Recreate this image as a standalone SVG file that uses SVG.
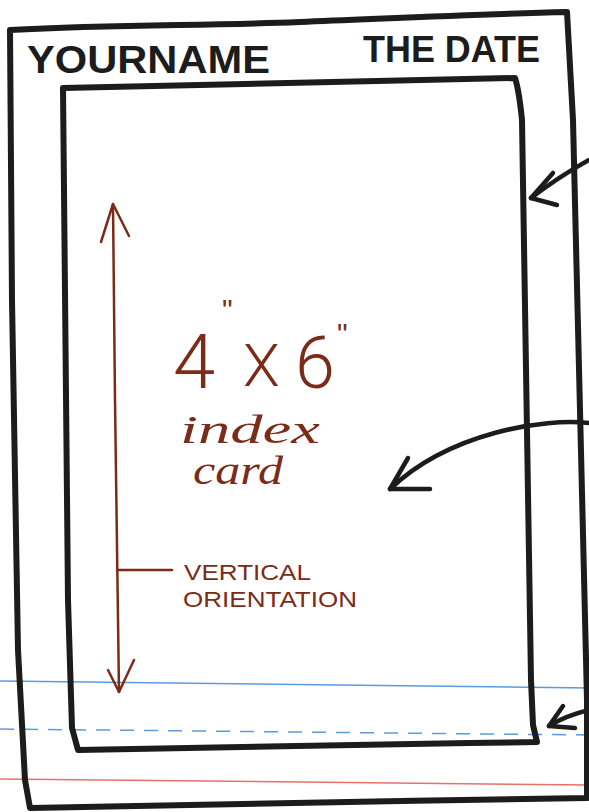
<svg xmlns="http://www.w3.org/2000/svg" width="589" height="812" viewBox="0 0 589 812">
<style>
.frame{fill:none;stroke:#1c1c1c;stroke-width:6;stroke-linejoin:round;stroke-linecap:round}
.arrow{fill:none;stroke:#1c1c1c;stroke-width:4.5;stroke-linecap:round;stroke-linejoin:round}
.brown{fill:none;stroke:#7a2c18;stroke-width:2.5;stroke-linecap:round;stroke-linejoin:round}
.hand{font-family:"Liberation Sans",Arial,sans-serif;fill:#1c1c1c}
.btxt{font-family:"Liberation Sans",Arial,sans-serif;fill:#7a2c18}
.big{font-family:Roboto,"Liberation Sans",Arial,sans-serif;font-weight:300;fill:#7a2c18}
.cur{font-family:"Liberation Serif","Times New Roman",serif;font-style:italic;fill:#7a2c18}
</style>
<rect width="589" height="812" fill="#ffffff"/>
<g id="paper-lines">
<line x1="0" y1="681" x2="589" y2="688" stroke="#5b9be0" stroke-width="1.5"/>
<line x1="0" y1="729" x2="589" y2="735" stroke="#5b9be0" stroke-width="1.5" stroke-dasharray="14,10"/>
<line x1="0" y1="779" x2="589" y2="785" stroke="#e8706a" stroke-width="1.5"/>
</g>
<g id="outer-frame">
<path class="frame" d="M10,30 C120,24 200,26 300,22 C400,18 480,14 567,12 L573,120 L587,700 L587,798 C400,800 200,806 30,808 L25,780 L18,650 L12,300 L10,30"/>
<text class="hand" x="27" y="73" font-size="38" font-weight="bold" textLength="243" lengthAdjust="spacingAndGlyphs">YOURNAME</text>
<text class="hand" x="363" y="62" font-size="36" font-weight="bold" textLength="177" lengthAdjust="spacingAndGlyphs">THE DATE</text>
</g>
<g id="index-card">
<path class="frame" d="M63,88 C200,86 350,82 515,78 Q519,90 522,120 L531,680 L533,725 L537,742 C380,744 220,748 78,750 L72,728 L68,600 L63,88"/>
<text class="big" x="173" y="388" font-size="76">4</text>
<text class="big" x="243" y="386" font-size="60">X</text>
<text class="big" x="295" y="388" font-size="72">6</text>
<text class="btxt" x="222" y="320" font-size="30">"</text>
<text class="btxt" x="337" y="344" font-size="30">"</text>
<text class="cur" x="180" y="443" font-size="40" textLength="140" lengthAdjust="spacingAndGlyphs">index</text>
<text class="cur" x="193" y="484" font-size="40" textLength="90" lengthAdjust="spacingAndGlyphs">card</text>
</g>
<g id="dimension">
<path class="brown" d="M113,204 L115,400 L119,692"/>
<path class="brown" d="M101,242 L113,204 L129,236"/>
<path class="brown" d="M108,670 L119,692 L134,660"/>
<path class="brown" d="M117,570 L172,570"/>
<text class="btxt" x="184" y="580" font-size="22" textLength="127" lengthAdjust="spacingAndGlyphs">VERTICAL</text>
<text class="btxt" x="183" y="607" font-size="22" textLength="174" lengthAdjust="spacingAndGlyphs">ORIENTATION</text>
</g>
<g id="connectors">
<path class="arrow" d="M589,160 Q560,176 531,198"/>
<path class="arrow" d="M553,173 L531,198 L557,205"/>
<path class="arrow" d="M589,423 C545,418 450,432 390,489"/>
<path class="arrow" d="M408,458 L390,489 L430,489"/>
<path class="arrow" d="M589,710 Q565,716 549,726"/>
<path class="arrow" d="M563,706 L549,726 L575,728"/>
</g>
</svg>
